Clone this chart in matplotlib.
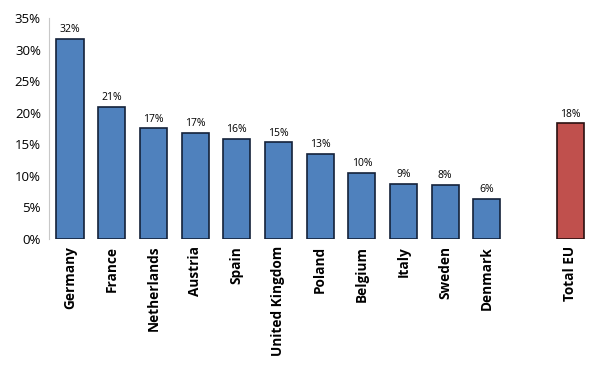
import matplotlib.pyplot as plt
from matplotlib.ticker import FuncFormatter

countries = ['Germany', 'France', 'Netherlands', 'Austria', 'Spain',
             'United Kingdom', 'Poland', 'Belgium', 'Italy', 'Sweden',
             'Denmark']
values = [31.7, 20.9, 17.5, 16.8, 15.9, 15.3, 13.5, 10.5, 8.7, 8.5, 6.4]
labels = ['32%', '21%', '17%', '17%', '16%', '15%', '13%', '10%', '9%', '8%', '6%']
eu_name = 'Total EU'
eu_value = 18.3
eu_label = '18%'

plt.rcParams['font.family'] = ['Open Sans', 'DejaVu Sans']

fig = plt.figure(figsize=(6, 3.67), dpi=100)
ax = fig.add_axes([0.082, 0.349, 0.903, 0.602])

x = list(range(len(countries)))
eu_x = len(countries) + 1

bars = ax.bar(x, values, width=0.65, color='#4F81BD', edgecolor='#14213a', linewidth=1.2)
eu_bar = ax.bar([eu_x], [eu_value], width=0.65, color='#C0504D', edgecolor='#2a1010', linewidth=1.2)

for b, lab in zip(list(bars) + list(eu_bar), labels + [eu_label]):
    ax.text(b.get_x() + b.get_width() / 2, b.get_height() + 0.6, lab,
            ha='center', va='bottom', fontsize=7.5)

ax.set_xlim(-0.5, eu_x + 0.5)
ax.set_ylim(0, 35)
ax.set_yticks(range(0, 36, 5))
ax.yaxis.set_major_formatter(FuncFormatter(lambda v, p: f'{v:.0f}%'))
ax.set_xticks(x + [eu_x])
ax.set_xticklabels(countries + [eu_name], rotation=90, fontweight='bold')

for s in ['top', 'right', 'bottom']:
    ax.spines[s].set_visible(False)
ax.spines['left'].set_color('#c8c8c8')
ax.tick_params(axis='both', length=0)
ax.tick_params(axis='y', labelsize=9.5, pad=6)
ax.tick_params(axis='x', pad=5, labelsize=9.8)

fig.savefig('out.png', dpi=100)
